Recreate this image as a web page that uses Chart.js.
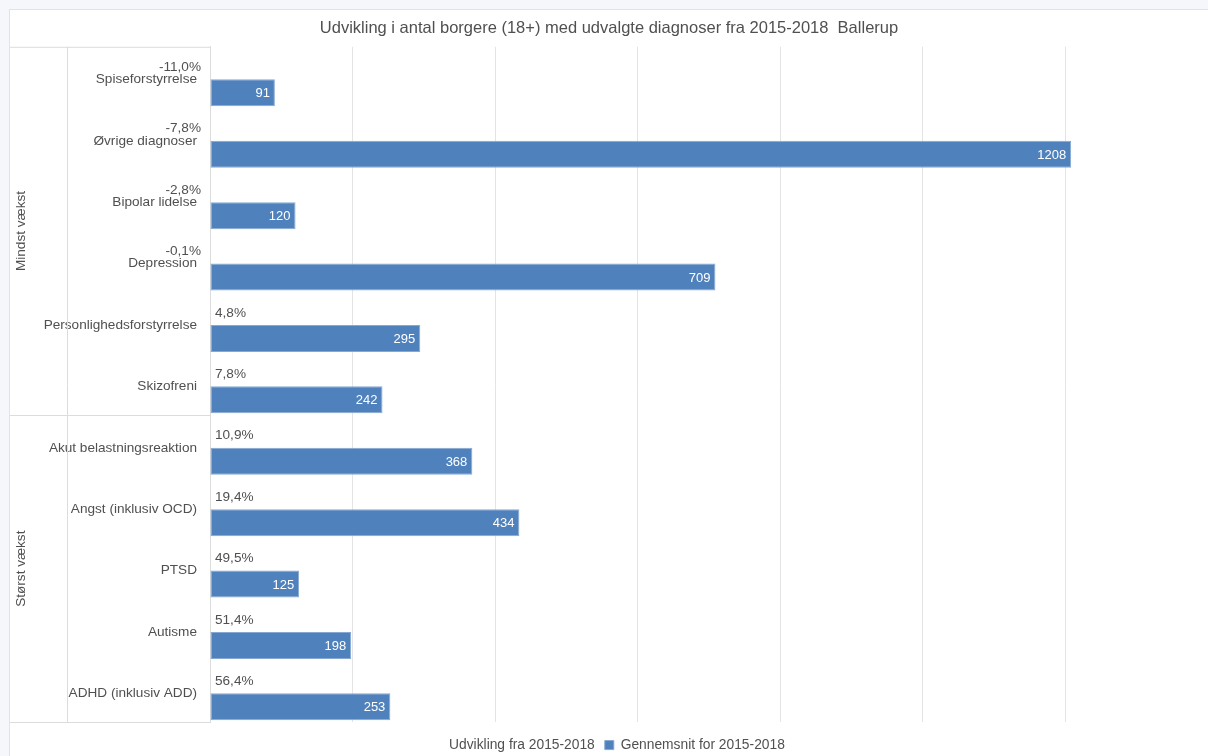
<!DOCTYPE html>
<html>
<head>
<meta charset="utf-8">
<script src="https://cdn.jsdelivr.net/npm/chart.js@4"></script>
<style>
  html, body { margin: 0; padding: 0; background: #f5f7fb; overflow: hidden; }
  #wrap { position: absolute; left: 9px; top: 9px; width: 1206px; height: 760px;
          border: 1px solid #dfe4ec; background: #fff; }
  canvas { display: block; }
</style>
</head>
<body>
<div id="wrap"><canvas id="chart" width="1206" height="760"></canvas></div>
<script>
const titleText = "Udvikling i antal borgere (18+) med udvalgte diagnoser fra 2015-2018  Ballerup";
const categories = [
  "Spiseforstyrrelse", "Øvrige diagnoser", "Bipolar lidelse", "Depression",
  "Personlighedsforstyrrelse", "Skizofreni", "Akut belastningsreaktion",
  "Angst (inklusiv OCD)", "PTSD", "Autisme", "ADHD (inklusiv ADD)"
];
const udvikling = [-11.0, -7.8, -2.8, -0.1, 4.8, 7.8, 10.9, 19.4, 49.5, 51.4, 56.4];
const gennemsnit = [91, 1208, 120, 709, 295, 242, 368, 434, 125, 198, 253];
const groupLabels = ["Mindst vækst", "Størst vækst"];
const groupSizes = [6, 5];

const textColor = "#505050";
const lineColor = "#dcdcdc";
const font = "Liberation Sans, Arial, sans-serif";

// labels for both series + grouped category axis on the left
const labelPlugin = {
  id: "labels",
  afterDatasetsDraw(chart) {
    const ctx = chart.ctx;
    const area = chart.chartArea;
    const y = chart.scales.y;
    ctx.save();
    ctx.font = "13.6px " + font;
    ctx.textBaseline = "middle";

    // percent labels at the base
    chart.getDatasetMeta(0).data.forEach((bar, i) => {
      const v = udvikling[i];
      const txt = v.toFixed(1).replace(".", ",") + "%";
      ctx.fillStyle = textColor;
      if (v < 0) {
        ctx.textAlign = "right";
        ctx.fillText(txt, area.left - 9, bar.y + 5);
      } else {
        ctx.textAlign = "left";
        ctx.fillText(txt, area.left + 5, bar.y + 5);
      }
    });

    // value labels inside bar end
    ctx.font = "13px " + font;
    chart.getDatasetMeta(1).data.forEach((bar, i) => {
      ctx.fillStyle = "#ffffff";
      ctx.textAlign = "right";
      ctx.fillText(String(gennemsnit[i]), bar.x - 5, bar.y + 1);
    });

    // group lines and labels
    const half = (y.getPixelForValue(1) - y.getPixelForValue(0)) / 2;
    const subX = 57;
    ctx.strokeStyle = lineColor;
    ctx.lineWidth = 1;
    ctx.beginPath();
    ctx.moveTo(0, area.top + 0.5);
    ctx.lineTo(area.left, area.top + 0.5);
    ctx.moveTo(subX + 0.5, area.top);
    ctx.lineTo(subX + 0.5, area.bottom);
    ctx.stroke();
    ctx.font = "13.6px " + font;
    let start = 0;
    groupSizes.forEach((n, g) => {
      const top = y.getPixelForValue(start) - half;
      const bottom = y.getPixelForValue(start + n - 1) + half;
      ctx.beginPath();
      ctx.moveTo(0, Math.round(bottom) + 0.5);
      ctx.lineTo(area.left, Math.round(bottom) + 0.5);
      ctx.stroke();
      ctx.save();
      ctx.translate(11, (top + bottom) / 2);
      ctx.rotate(-Math.PI / 2);
      ctx.textAlign = "center";
      ctx.fillStyle = textColor;
      ctx.fillText(groupLabels[g], 0, 0);
      ctx.restore();
      start += n;
    });
    ctx.restore();
  }
};

new Chart(document.getElementById("chart"), {
  type: "bar",
  data: {
    labels: categories,
    datasets: [
      {
        label: "Udvikling fra 2015-2018",
        data: udvikling,
        backgroundColor: "rgba(0,0,0,0)",
        borderWidth: 0,
        categoryPercentage: 1.0,
        barPercentage: 0.88
      },
      {
        label: "Gennemsnit for 2015-2018",
        data: gennemsnit,
        backgroundColor: "#4f81bd",
        borderColor: "#86a8d2",
        borderWidth: 1,
        borderSkipped: false,
        categoryPercentage: 1.0,
        barPercentage: 0.88
      }
    ]
  },
  options: {
    indexAxis: "y",
    responsive: false,
    animation: false,
    events: [],
    layout: { padding: { left: 0, right: 8, top: 0, bottom: 8 } },
    plugins: {
      title: {
        display: true,
        text: titleText,
        color: textColor,
        font: { family: font, size: 16.5, weight: "normal" },
        padding: { top: 9, bottom: 8 }
      },
      legend: {
        position: "bottom",
        labels: {
          color: textColor,
          font: { family: font, size: 13.8 },
          boxWidth: 9,
          boxHeight: 9,
          padding: 10
        }
      },
      tooltip: { enabled: false }
    },
    scales: {
      x: {
        min: 0,
        max: 1400,
        ticks: { display: false, stepSize: 200 },
        grid: { color: "#e4e4e4", drawTicks: false },
        border: { display: false },
        afterFit(scale) { scale.height = 6; }
      },
      y: {
        ticks: {
          color: textColor,
          font: { family: font, size: 13.6 },
          padding: 13,
          labelOffset: 2
        },
        grid: { display: false, drawTicks: false },
        border: { display: true, color: lineColor },
        afterFit(scale) { scale.width = 200; }
      }
    }
  },
  plugins: [labelPlugin]
});
</script>
</body>
</html>
